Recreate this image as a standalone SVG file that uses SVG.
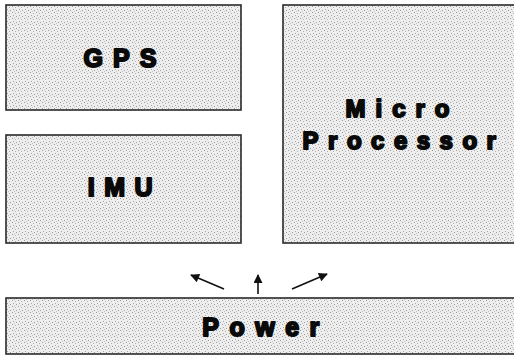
<svg xmlns="http://www.w3.org/2000/svg" width="514" height="356" viewBox="0 0 514 356">
<defs>
<pattern id="stip" width="6" height="6" patternUnits="userSpaceOnUse">
<rect width="6" height="6" fill="#eeeeee"/>
<rect x="0" y="0" width="1" height="1" fill="#9a9a9a"/>
<rect x="3" y="1" width="1" height="1" fill="#b0b0b0"/>
<rect x="1" y="3" width="1" height="1" fill="#a5a5a5"/>
<rect x="4" y="4" width="1" height="1" fill="#9a9a9a"/>
<rect x="2" y="5" width="1" height="1" fill="#c0c0c0"/>
</pattern>
<marker id="ah" viewBox="0 0 10 10" refX="9" refY="5" markerWidth="11" markerHeight="9" markerUnits="userSpaceOnUse" orient="auto">
<path d="M0,0 L10,5 L0,10 Z" fill="#111"/>
</marker>
</defs>
<style>
.box{fill:url(#stip);stroke:#2a2a2a;stroke-width:1.6}
.lbl{font-family:"Liberation Sans",Arial,sans-serif;font-weight:bold;fill:#0a0a0a;stroke:#0a0a0a;stroke-width:2;stroke-linejoin:round;text-anchor:middle}
.conn{stroke:#111;stroke-width:1.6;fill:none;marker-end:url(#ah)}
</style>
<rect width="514" height="356" fill="#fff"/>
<g id="gps">
<rect class="box" x="6" y="5" width="235" height="105"/>
<text class="lbl" x="125" y="67" font-size="25" letter-spacing="10">GPS</text>
</g>
<g id="imu">
<rect class="box" x="6" y="135" width="235" height="108"/>
<text class="lbl" x="125" y="196" font-size="25" letter-spacing="9.5">IMU</text>
</g>
<g id="microprocessor">
<rect class="box" x="283" y="5" width="240" height="238"/>
<text class="lbl" x="402.5" y="117" font-size="24" letter-spacing="10">Micro</text>
<text class="lbl" x="404" y="149" font-size="24" letter-spacing="9.5">Processor</text>
</g>
<g id="power">
<rect class="box" x="6" y="298" width="520" height="56"/>
<text class="lbl" x="266" y="336" font-size="25" letter-spacing="10.5">Power</text>
</g>
<g id="connectors">
<line class="conn" x1="224" y1="289" x2="191" y2="275"/>
<line class="conn" x1="258" y1="294" x2="258" y2="275"/>
<line class="conn" x1="292" y1="289" x2="327" y2="274"/>
</g>
</svg>
